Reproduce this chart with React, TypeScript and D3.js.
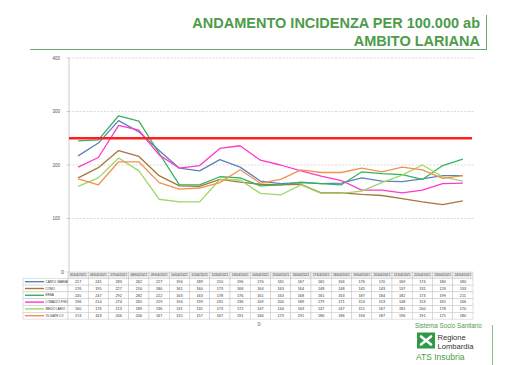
import React from 'react';
import * as d3 from 'd3';

const dates = [
  '05/04/2021', '06/04/2021', '07/04/2021', '08/04/2021', '09/04/2021',
  '10/04/2021', '11/04/2021', '12/04/2021', '13/04/2021', '14/04/2021',
  '15/04/2021', '16/04/2021', '17/04/2021', '18/04/2021', '19/04/2021',
  '20/04/2021', '21/04/2021', '22/04/2021', '23/04/2021', '24/04/2021',
];

const cantuMariano = [217, 241, 283, 262, 227, 194, 189, 210, 196, 170, 165, 167, 165, 166, 176, 170, 169, 174, 180, 180];
const como = [176, 195, 227, 216, 180, 161, 160, 173, 168, 164, 163, 164, 148, 148, 145, 143, 137, 131, 126, 133];
const erba = [245, 247, 292, 282, 222, 163, 163, 178, 176, 161, 163, 168, 165, 163, 187, 184, 182, 173, 199, 211];
const lomazzoFino = [196, 214, 274, 265, 219, 194, 199, 231, 236, 209, 200, 189, 179, 171, 153, 153, 148, 153, 165, 166];
const medioLario = [160, 176, 213, 189, 136, 131, 131, 173, 172, 147, 144, 163, 147, 147, 151, 167, 181, 200, 178, 170];
const olgiateCo = [174, 163, 206, 206, 167, 155, 157, 167, 191, 166, 173, 191, 186, 186, 194, 187, 196, 191, 175, 180];

const seriesNames = ["CANTU'-MARIANO", 'COMO', 'ERBA', 'LOMAZZO-FINO', 'MEDIO LARIO', 'OLGIATE CO'];
const seriesValues = [cantuMariano, como, erba, lomazzoFino, medioLario, olgiateCo];
const seriesColors = ['#5b82b9', '#a8763a', '#35b35f', '#ff38c8', '#9ed765', '#ef9250'];

const yTicks = [0, 100, 200, 300, 400];
const threshold = 250;

const App: React.FC = () => {
  const width = 510;
  const height = 365;

  const x = d3.scaleBand<string>().domain(dates).range([68, 473]);
  const y = d3.scaleLinear().domain([0, 400]).range([272, 58]);
  const cx = (d: string) => (x(d) || 0) + x.bandwidth() / 2;

  const line = d3.line<number>()
    .x((_, i) => cx(dates[i]))
    .y(v => y(v));

  const headTop = 272;
  const headH = 6.3;
  const rowH = 6.8;
  const legendLeft = 23;
  const font = "'Liberation Sans', Arial, sans-serif";
  const green = '#4c9c4a';

  return (
    <svg width={width} height={height} style={{ position: 'absolute', left: 0, top: 0, background: '#fff' }}>
      {/* title */}
      <text x={480} y={28} textAnchor="end" fontFamily={font} fontWeight="bold" fontSize={14.5} fill={green}>
        ANDAMENTO INCIDENZA PER 100.000 ab
      </text>
      <text x={480} y={46} textAnchor="end" fontFamily={font} fontWeight="bold" fontSize={14.5} fill={green}>
        AMBITO LARIANA
      </text>
      <line x1={30} x2={487} y1={49.5} y2={49.5} stroke="#6aa868" strokeWidth={1} />
      <line x1={486.5} x2={486.5} y1={15} y2={50} stroke="#6aa868" strokeWidth={1} />

      {/* grid */}
      {yTicks.filter(t => t > 0).map(t => (
        <line key={t} x1={69} x2={474} y1={y(t)} y2={y(t)} stroke="#c8c8c8" strokeWidth={0.7} strokeDasharray="2,1.5" />
      ))}
      <line x1={69} x2={69} y1={y(400)} y2={y(0)} stroke="#bdbdbd" strokeWidth={0.8} />
      {yTicks.map(t => (
        <g key={t}>
          <line x1={66.5} x2={69} y1={y(t)} y2={y(t)} stroke="#bdbdbd" strokeWidth={0.7} />
          <text x={t === 0 ? 64 : 60} y={y(t) + 1.5} textAnchor="end" fontFamily={font} fontSize={t === 0 ? 5.5 : 4.5} fill="#555">
            {t}
          </text>
        </g>
      ))}

      {/* series */}
      {seriesValues.map((vals, i) => (
        <path key={seriesNames[i]} d={line(vals) || ''} fill="none" stroke={seriesColors[i]} strokeWidth={1.3} strokeLinejoin="round" />
      ))}

      {/* threshold */}
      <line x1={69} x2={472} y1={y(threshold)} y2={y(threshold)} stroke="#ff1f1f" strokeWidth={2.3} />

      {/* table */}
      {dates.map(d => (
        <g key={d}>
          <rect x={x(d)} y={headTop} width={x.bandwidth()} height={headH} fill="#ececec" stroke="#c4c4c4" strokeWidth={0.5} />
          <text x={cx(d)} y={headTop + 4.4} textAnchor="middle" fontFamily={font} fontSize={3.4} fill="#333">{d}</text>
        </g>
      ))}
      {seriesValues.map((vals, i) => {
        const ry = headTop + headH + i * rowH;
        return (
          <g key={seriesNames[i]}>
            <rect x={legendLeft} y={ry} width={68 - legendLeft} height={rowH} fill="#fff" stroke="#c4c4c4" strokeWidth={0.5} />
            <line x1={legendLeft + 2} x2={legendLeft + 21} y1={ry + rowH / 2} y2={ry + rowH / 2} stroke={seriesColors[i]} strokeWidth={1.4} />
            <text x={legendLeft + 22.5} y={ry + 4.5} fontFamily={font} fontSize={3} fill="#333">{seriesNames[i]}</text>
            {vals.map((v, j) => (
              <g key={j}>
                <rect x={x(dates[j])} y={ry} width={x.bandwidth()} height={rowH} fill="#fff" stroke="#c4c4c4" strokeWidth={0.5} />
                <text x={cx(dates[j])} y={ry + 4.7} textAnchor="middle" fontFamily={font} fontSize={3.8} fill="#333">{v}</text>
              </g>
            ))}
          </g>
        );
      })}

      {/* page number */}
      <text x={259} y={326} textAnchor="middle" fontFamily={font} fontSize={6} fill="#777">9</text>

      {/* footer logo */}
      <text x={415} y={328} fontFamily={font} fontSize={6.3} fill={green}>Sistema Socio Sanitario</text>
      <rect x={417} y={332.5} width={18} height={16} fill="#2e9a48" />
      <g stroke="#fff" strokeWidth={2.6} strokeLinecap="round">
        <line x1={421} x2={431} y1={336.5} y2={344.5} />
        <line x1={431} x2={421} y1={336.5} y2={344.5} />
      </g>
      <text x={437.5} y={340} fontFamily={font} fontSize={7.6} fill="#333">Regione</text>
      <text x={437.5} y={348.5} fontFamily={font} fontSize={7.6} fill="#333">Lombardia</text>
      <text x={416} y={360} fontFamily={font} fontSize={8.5} fill={green}>ATS Insubria</text>
      <line x1={492.5} x2={492.5} y1={325} y2={365} stroke="#8dbb8b" strokeWidth={1} />
    </svg>
  );
};

export default App;
